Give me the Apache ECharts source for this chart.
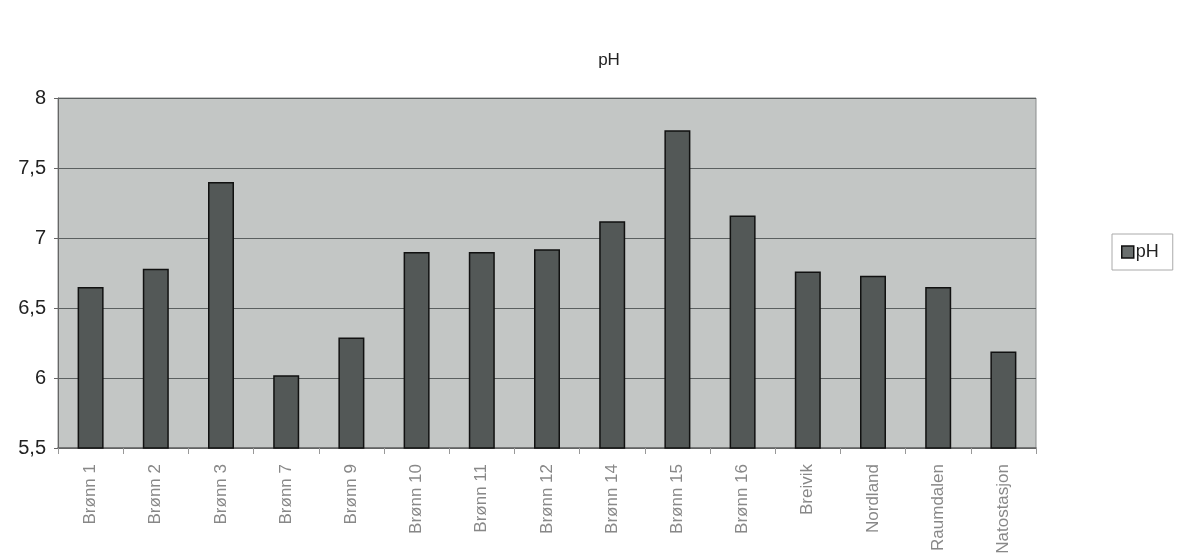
<!DOCTYPE html>
<html>
<head>
<meta charset="utf-8">
<script src="https://cdn.jsdelivr.net/npm/echarts@6/dist/echarts.min.js"></script>
<style>html,body{margin:0;padding:0;background:#fff;}#c{width:1194px;height:559px;}</style>
</head>
<body>
<div id="c"></div>
<script>
const categories = ['Brønn 1','Brønn 2','Brønn 3','Brønn 7','Brønn 9','Brønn 10','Brønn 11','Brønn 12','Brønn 14','Brønn 15','Brønn 16','Breivik','Nordland','Raumdalen','Natostasjon'];
const phValues = [6.65, 6.78, 7.40, 6.02, 6.29, 6.90, 6.90, 6.92, 7.12, 7.77, 7.16, 6.76, 6.73, 6.65, 6.19];
const seriesName = 'pH';
const titleText = 'pH';

const chart = echarts.init(document.getElementById('c'));
chart.setOption({
  animation: false,
  backgroundColor: '#ffffff',
  title: {
    text: titleText,
    left: 604, top: 47, textAlign: 'center',
    textStyle: {fontFamily: 'Liberation Sans, Arial', fontSize: 17, fontWeight: 'normal', color: '#222'}
  },
  legend: {
    data: [seriesName],
    orient: 'vertical',
    left: 1112, top: 234,
    padding: [9, 14, 9, 9],
    borderColor: '#aaa', borderWidth: 1,
    backgroundColor: '#fff',
    icon: 'rect',
    itemWidth: 12, itemHeight: 12,
    itemStyle: {color: '#6a6f6e', borderColor: '#111', borderWidth: 1.5},
    textStyle: {fontFamily: 'Liberation Sans, Arial', fontSize: 18, color: '#222', padding: [0,0,0,-3]}
  },
  grid: {
    left: 58, right: 158, top: 98, bottom: 111,
    show: true, backgroundColor: '#c3c6c5', borderColor: '#8a8d8d', borderWidth: 1
  },
  xAxis: {
    type: 'category',
    data: categories,
    boundaryGap: true,
    axisLine: {show: true, lineStyle: {color: '#666', width: 1.5}},
    axisTick: {show: true, alignWithLabel: false, length: 6, lineStyle: {color: '#999'}},
    axisLabel: {
      rotate: 90, margin: 16,
      fontFamily: 'Liberation Sans, Arial', fontSize: 17, color: '#888'
    },
    splitLine: {show: false}
  },
  yAxis: {
    type: 'value',
    min: 5.5, max: 8, interval: 0.5,
    axisLine: {show: true, lineStyle: {color: '#666'}},
    axisTick: {show: true, length: 4, lineStyle: {color: '#666'}},
    axisLabel: {
      margin: 12,
      fontFamily: 'Liberation Sans, Arial', fontSize: 20, color: '#222',
      formatter: v => String(v).replace('.', ',')
    },
    splitLine: {show: true, lineStyle: {color: '#5b6060', width: 1}}
  },
  series: [{
    name: seriesName,
    type: 'bar',
    data: phValues,
    barWidth: 26,
    itemStyle: {color: '#535857', borderColor: '#111', borderWidth: 1.5}
  }]
});
</script>
</body>
</html>
